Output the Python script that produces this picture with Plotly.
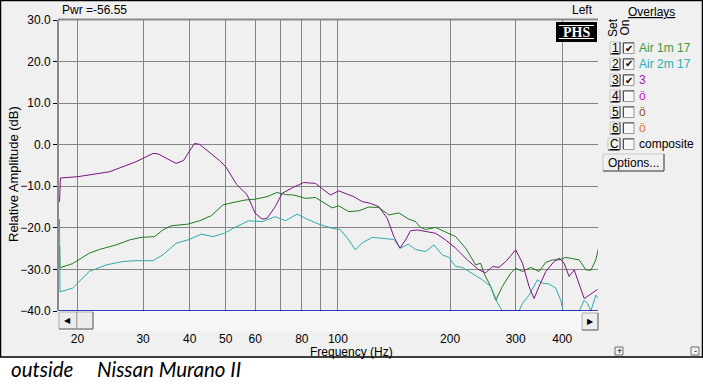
import math
import plotly.graph_objects as go

W, H = 703, 392

# ---------------- data ----------------
series_names = ["Air 1m 17", "Air 2m 17", "3"]

freq_air1 = [17.90, 17.95, 18.1, 19.4, 21.5, 22.9, 25.4, 27.6, 29.6, 32.2, 33.9, 35.7, 39.6, 42.5,
             45.7, 49.1, 52.3, 55.0, 56.4, 60.0, 64.5, 68.6, 72.3, 76.1, 81.8, 87.0, 96.5, 100.5,
             106.9, 113.7, 121.0, 128.7, 137.0, 145.7, 155.0, 161.5, 166.6, 171.9, 182.8, 194.5,
             207.0, 220.2, 234.3, 241.5, 246.6, 257.0, 265.2, 276.3, 290.8, 300.0, 312.8, 329.3,
             346.6, 361.3, 376.6, 392.2, 408.9, 426.2, 444.1, 462.9, 477.4, 492.2, 500.4]
db_air1 = [-24.2, -29.6, -29.5, -28.6, -26.1, -25.2, -24.1, -22.9, -22.3, -22.1, -20.5, -19.5, -19.1, -18.3,
           -17.1, -14.5, -13.9, -13.4, -13.3, -13.1, -12.5, -11.5, -12.0, -12.1, -12.9, -12.7, -15.2, -14.7,
           -16.1, -15.9, -15.0, -15.1, -16.9, -16.4, -17.9, -18.5, -19.9, -20.4, -19.9, -21.0,
           -22.1, -24.9, -28.9, -28.5, -30.9, -34.1, -37.4, -34.1, -30.9, -29.7, -30.5, -29.5,
           -30.5, -28.3, -27.7, -27.7, -27.1, -27.4, -27.7, -30.1, -30.2, -27.7, -24.9]

freq_air2 = [17.90, 17.95, 19.4, 21.5, 23.9, 26.5, 28.7, 31.9, 33.9, 36.8, 39.9, 43.0, 46.2, 49.6,
             52.3, 55.0, 57.6, 62.6, 67.9, 72.3, 77.7, 82.6, 88.8, 96.5, 101.5, 106.9, 111.4, 116.2,
             123.6, 131.4, 141.3, 147.2, 154.4, 161.5, 171.9, 181.0, 190.6, 198.5, 207.0, 215.6,
             229.4, 244.2, 257.0, 268.0, 276.3, 306.2, 312.8, 325.8, 343.2, 353.8, 368.8, 384.3,
             396.3, 402.0, 444.1, 458.1, 467.7, 477.4, 492.2, 500.4]
db_air2 = [-17.9, -35.4, -34.5, -30.5, -28.9, -28.1, -27.9, -27.9, -26.5, -23.7, -22.8, -21.5, -22.1, -21.3,
           -20.1, -19.1, -18.3, -18.5, -17.3, -18.3, -16.7, -17.9, -19.1, -20.1, -20.4, -22.9, -25.3, -23.6,
           -22.3, -22.5, -22.8, -24.9, -23.9, -25.2, -25.7, -24.1, -26.5, -27.1, -29.3, -29.5,
           -30.9, -32.5, -34.1, -38.0, -40.0, -40.0, -38.2, -36.2, -32.5, -33.3, -33.5, -34.5,
           -37.4, -40.0, -40.0, -37.4, -38.2, -40.0, -36.2, -37.0]

freq_s3 = [17.90, 18.00, 20.0, 24.4, 28.7, 31.9, 32.9, 36.8, 38.5, 41.2, 42.5, 48.1, 50.1, 53.4,
           57.0, 60.0, 62.6, 64.5, 67.9, 70.8, 76.1, 80.9, 87.0, 95.5, 100.5, 110.3, 116.2, 122.3,
           128.7, 135.6, 141.3, 146.6, 151.9, 156.6, 163.3, 171.9, 182.8, 194.5, 207.0, 222.5,
           239.0, 249.2, 259.8, 270.6, 282.1, 300.0, 312.8, 325.8, 336.0, 346.6, 361.3, 380.2,
           392.2, 404.6, 417.4, 430.5, 444.1, 458.1, 472.5, 497.5]
db_s3 = [-13.7, -8.0, -7.7, -6.5, -4.1, -2.1, -2.2, -4.5, -3.8, 0.3, 0.1, -3.8, -5.4, -9.5,
         -12.0, -16.5, -17.9, -17.7, -14.9, -11.7, -10.2, -9.1, -9.3, -12.1, -11.1, -12.5, -13.7, -14.1,
         -14.9, -17.7, -22.1, -24.9, -22.9, -20.7, -20.5, -20.9, -21.3, -22.9, -24.9, -27.7,
         -30.1, -30.8, -29.3, -29.5, -28.1, -25.3, -28.5, -34.1, -37.0, -34.1, -30.5, -28.1,
         -27.3, -28.5, -31.7, -30.1, -33.3, -37.0, -36.2, -34.8]

x_tick_vals = [20, 30, 40, 50, 60, 70, 80, 90, 100, 200, 300, 400]
x_tick_text = ["20", "30", "40", "50", "60", "", "80", "", "100", "200", "300", "400"]
y_tick_vals = [30, 20, 10, 0, -10, -20, -30, -40]
freq_range = [17.84, 498.9]
db_range = [-40, 30]

overlay_sets = ["1", "2", "3", "4", "5", "6", "C"]
overlay_labels = ["Air 1m 17", "Air 2m 17", "3", "ö", "ö", "ö", "composite"]
overlay_on = [True, True, True, False, False, False, False]

# ---------------- styles ----------------
curve_colors = ["#1f7a1f", "#2eaaaa", "#7a1480"]
label_colors = ["#3a9a3a", "#20b0b0", "#a020a8", "#d020d0", "#8b5a2b", "#e07840", "#000000"]
FONT = "Liberation Sans, Arial, sans-serif"


def px(x):
    return x / W


def py(y):
    return 1 - y / H


fig = go.Figure()
for f, d, c, n in [(freq_air1, db_air1, curve_colors[0], series_names[0]),
                   (freq_air2, db_air2, curve_colors[1], series_names[1]),
                   (freq_s3, db_s3, curve_colors[2], series_names[2])]:
    fig.add_trace(go.Scatter(x=f, y=d, mode="lines", name=n,
                             line=dict(color=c, width=1), hoverinfo="skip"))
# invisible companion so the tick-label axis is drawn
fig.add_trace(go.Scatter(x=freq_air1, y=db_air1, xaxis="x2", mode="lines",
                         line=dict(color="rgba(0,0,0,0)", width=0), hoverinfo="skip",
                         showlegend=False))

log_range = [math.log10(freq_range[0]), math.log10(freq_range[1])]

shapes = []
ann = []

# window frame
shapes.append(dict(type="rect", xref="paper", yref="paper", x0=px(0.5), x1=px(702.5),
                   y0=py(357), y1=py(0.5), fillcolor="#f0f0f0",
                   line=dict(color="#000000", width=1.5), layer="below"))
# top border of plot
shapes.append(dict(type="line", xref="paper", yref="paper", x0=px(58), x1=px(598),
                   y0=py(19.5), y1=py(19.5), line=dict(color="#8a8a8a", width=2)))
# scrollbar strip
shapes.append(dict(type="rect", xref="paper", yref="paper", x0=px(59), x1=px(598),
                   y0=py(331), y1=py(311), fillcolor="#f6f6f6", line=dict(width=0)))
for (x0, x1, y0, y1) in [(59, 77, 312, 329), (77, 93, 312, 329), (582, 598, 313, 330)]:
    shapes.append(dict(type="rect", xref="paper", yref="paper", x0=px(x0), x1=px(x1),
                       y0=py(y1), y1=py(y0), fillcolor="#ececec",
                       line=dict(color="#b0b0b0", width=1)))
    shapes.append(dict(type="line", xref="paper", yref="paper", x0=px(x0), x1=px(x1),
                       y0=py(y1), y1=py(y1), line=dict(color="#707070", width=1)))
    shapes.append(dict(type="line", xref="paper", yref="paper", x0=px(x1), x1=px(x1),
                       y0=py(y1), y1=py(y0), line=dict(color="#707070", width=1)))
ann.append(dict(x=px(67), y=py(320.5), text="◀", font=dict(size=8, color="black", family="DejaVu Sans")))
ann.append(dict(x=px(590), y=py(321.5), text="▶", font=dict(size=8, color="black", family="DejaVu Sans")))
# blue bottom line at -40 dB
shapes.append(dict(type="line", xref="x domain", yref="y", x0=0, x1=1, y0=-40, y1=-40,
                   line=dict(color="#0000b0", width=1.5)))

# PHS logo
shapes.append(dict(type="rect", xref="paper", yref="paper", x0=px(556), x1=px(597),
                   y0=py(42), y1=py(22), fillcolor="#000000", line=dict(width=0)))
for yy in (25.5, 38.5):
    shapes.append(dict(type="line", xref="paper", yref="paper", x0=px(559), x1=px(594),
                       y0=py(yy), y1=py(yy), line=dict(color="#ffffff", width=1)))
ann.append(dict(x=px(576.5), y=py(32.5), text="<b>PHS</b>",
                font=dict(size=14, color="white", family="Liberation Serif, Times New Roman, serif")))

# top texts
ann.append(dict(x=px(61), y=py(10), text="Pwr =-56.55", xanchor="left",
                font=dict(size=12, color="black", family=FONT)))
ann.append(dict(x=px(594), y=py(10), text="Left", xanchor="right",
                font=dict(size=12, color="black", family=FONT)))
ann.append(dict(x=px(627), y=py(12), text="<u>Overlays</u>", xanchor="left",
                font=dict(size=12, color="black", family=FONT)))
ann.append(dict(x=px(613), y=py(28), text="Set", textangle=-90,
                font=dict(size=12, color="black", family=FONT)))
ann.append(dict(x=px(624.5), y=py(28), text="On", textangle=-90,
                font=dict(size=12, color="black", family=FONT)))

# overlay rows
for i, (s, lab, on) in enumerate(zip(overlay_sets, overlay_labels, overlay_on)):
    yc = 48 + 16 * i
    bx0 = 608 if s == "C" else 610
    shapes.append(dict(type="rect", xref="paper", yref="paper", x0=px(bx0), x1=px(620),
                       y0=py(yc + 6), y1=py(yc - 6), fillcolor="#f0f0f0",
                       line=dict(color="#c8c8c8", width=1)))
    shapes.append(dict(type="path", xref="paper", yref="paper",
                       path=f"M {px(bx0)} {py(yc + 6)} L {px(620)} {py(yc + 6)} L {px(620)} {py(yc - 6)}",
                       line=dict(color="#404040", width=1)))
    ann.append(dict(x=px((bx0 + 620) / 2), y=py(yc), text=f"<u>{s}</u>",
                    font=dict(size=12, color="black", family=FONT)))
    shapes.append(dict(type="rect", xref="paper", yref="paper", x0=px(623), x1=px(634),
                       y0=py(yc + 5.5), y1=py(yc - 5.5), fillcolor="#f8f8f8",
                       line=dict(color="#9a9a9a", width=1)))
    shapes.append(dict(type="path", xref="paper", yref="paper",
                       path=f"M {px(623.5)} {py(yc + 5)} L {px(623.5)} {py(yc - 5)} L {px(634)} {py(yc - 5)}",
                       line=dict(color="#505050", width=1)))
    if on:
        ann.append(dict(x=px(628.5), y=py(yc), text="✔",
                        font=dict(size=10, color="black", family="DejaVu Sans")))
    ann.append(dict(x=px(638), y=py(yc), text=lab, xanchor="left",
                    font=dict(size=12, color=label_colors[i], family=FONT)))

# Options button
shapes.append(dict(type="rect", xref="paper", yref="paper", x0=px(603), x1=px(664),
                   y0=py(171), y1=py(154), fillcolor="#f0f0f0",
                   line=dict(color="#c8c8c8", width=1)))
shapes.append(dict(type="path", xref="paper", yref="paper",
                   path=f"M {px(603)} {py(171)} L {px(664)} {py(171)} L {px(664)} {py(154)}",
                   line=dict(color="#404040", width=1)))
ann.append(dict(x=px(633.5), y=py(162.5), text="Options...",
                font=dict(size=12, color="black", family=FONT)))

# +/- small buttons
for xc, t in [(619, "+"), (695, "-")]:
    shapes.append(dict(type="rect", xref="paper", yref="paper", x0=px(xc - 4), x1=px(xc + 4),
                       y0=py(355), y1=py(347), fillcolor="#f0f0f0",
                       line=dict(color="#707070", width=1)))
    ann.append(dict(x=px(xc), y=py(351), text=t,
                    font=dict(size=9, color="black", family=FONT)))

# axis titles
ann.append(dict(x=px(351), y=py(352), text="Frequency (Hz)",
                font=dict(size=12, color="black", family=FONT)))
ann.append(dict(x=px(13), y=py(174), text="Relative Amplitude (dB)", textangle=-90,
                font=dict(size=13, color="black", family=FONT)))

# caption
ann.append(dict(x=px(10), y=py(369), text="<i>outside</i>", xanchor="left",
                font=dict(size=20.5, color="black", family="Lato, Open Sans, sans-serif")))
ann.append(dict(x=px(96), y=py(369), text="<i>Nissan Murano II</i>", xanchor="left",
                font=dict(size=20.5, color="black", family="Lato, Open Sans, sans-serif")))

for a in ann:
    a.setdefault("xref", "paper")
    a.setdefault("yref", "paper")
    a.setdefault("showarrow", False)
    a.setdefault("xanchor", "center")
    a.setdefault("yanchor", "middle")
    a.setdefault("borderpad", 0)

fig.update_layout(
    width=W, height=H,
    margin=dict(l=0, r=0, t=0, b=0, pad=0, autoexpand=False),
    paper_bgcolor="#ffffff",
    plot_bgcolor="#d9d9d9",
    showlegend=False,
    font=dict(family=FONT, size=12, color="black"),
    xaxis=dict(type="log", range=log_range, domain=[px(59), px(598)],
               tickvals=x_tick_vals, showticklabels=False, ticks="",
               showgrid=True, gridcolor="#848484", gridwidth=1,
               zeroline=False, showline=False, automargin=False),
    xaxis2=dict(type="log", range=log_range, overlaying="x", anchor="free",
                position=py(325.5), side="bottom",
                tickvals=x_tick_vals, ticktext=x_tick_text,
                ticks="outside", ticklen=2, tickcolor="#000000",
                tickfont=dict(size=12, color="black", family=FONT),
                showgrid=False, zeroline=False, showline=False, automargin=False),
    yaxis=dict(range=db_range, domain=[py(311), py(20)],
               tickvals=y_tick_vals, tickformat=".1f",
               ticks="outside", ticklen=4, tickcolor="#000000",
               tickfont=dict(size=12, color="black", family=FONT),
               showgrid=True, gridcolor="#848484", gridwidth=1,
               zeroline=False, showline=True, linecolor="#8a8a8a", linewidth=2,
               automargin=False),
    shapes=shapes,
    annotations=ann,
)

fig.write_html("out.html", config={"displayModeBar": False},
               post_script="document.body.style.margin='0';document.body.style.overflow='hidden';")
